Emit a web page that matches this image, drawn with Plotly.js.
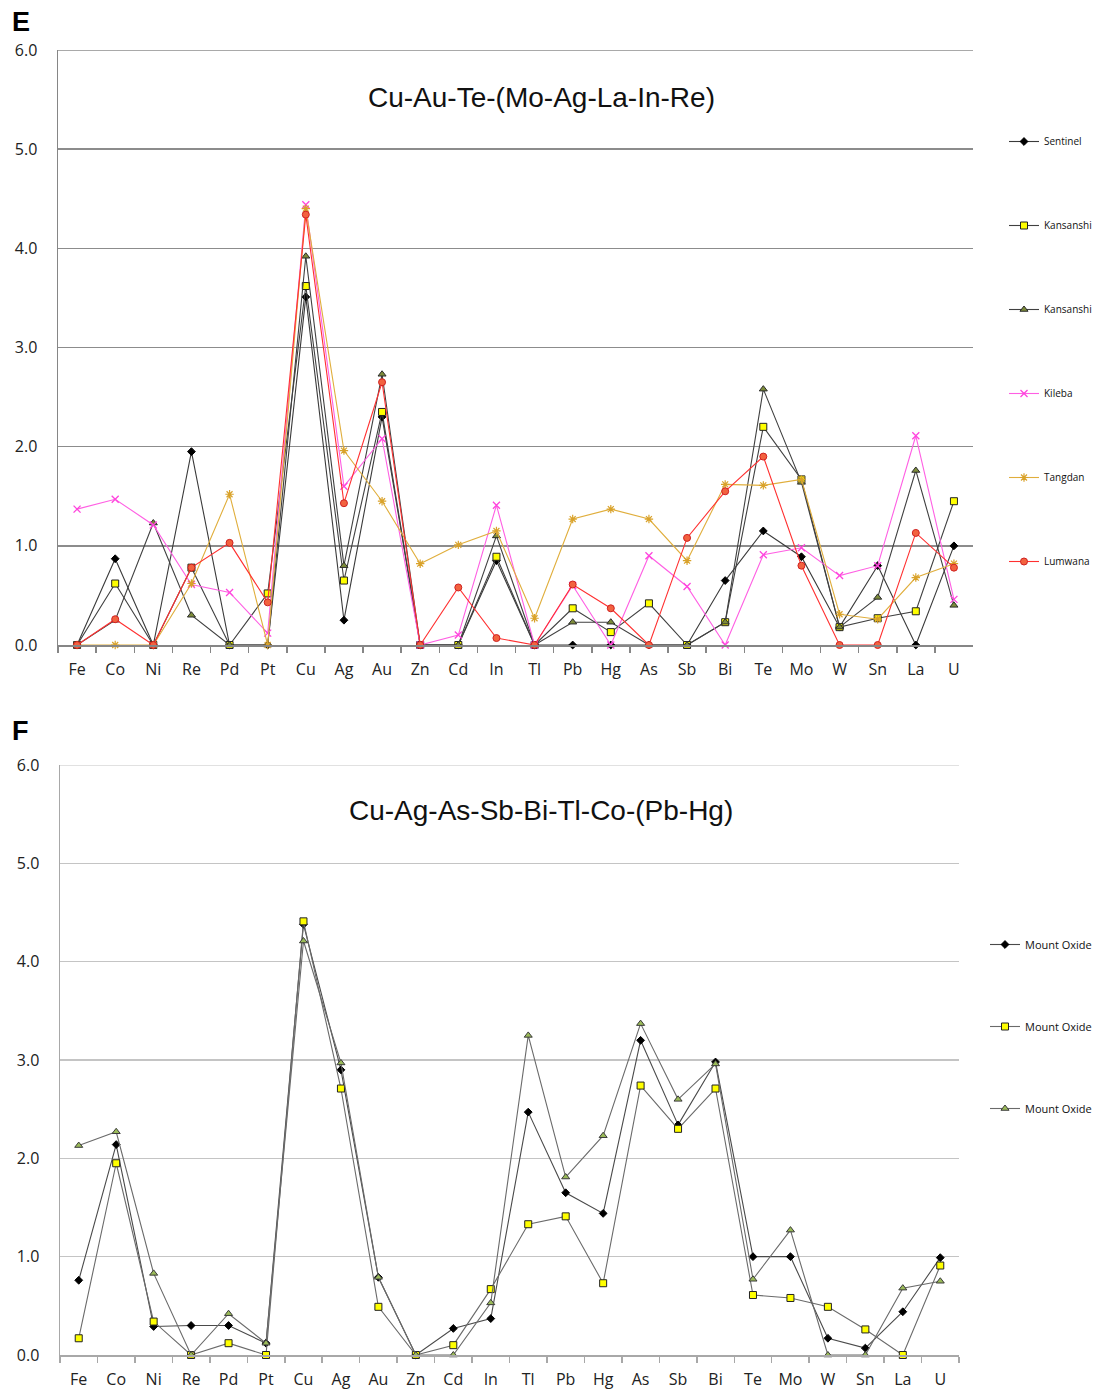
<!DOCTYPE html>
<html>
<head>
<meta charset="utf-8">
<script src="https://cdn.plot.ly/plotly-3.0.1.min.js"></script>
<style>
  html, body { margin: 0; padding: 0; background: #fff; }
  #chart { width: 1102px; height: 1392px; }
</style>
</head>
<body>
<div id="chart"></div>
<script>
// Element order along the x axis (shared by both panels)
const elements = ["Fe","Co","Ni","Re","Pd","Pt","Cu","Ag","Au","Zn","Cd","In","Tl","Pb","Hg","As","Sb","Bi","Te","Mo","W","Sn","La","U"];

// Panel E: Cu-Au-Te-(Mo-Ag-La-In-Re)
const sentinel   = [0, 0.87, 0, 1.95, 0, 0, 3.51, 0.25, 2.30, 0, 0, 0.85, 0, 0, 0, 0, 0, 0.65, 1.15, 0.89, 0.18, 0.80, 0, 1.00];
const kansanshiA = [0, 0.62, 0, 0.78, 0, 0.52, 3.62, 0.65, 2.35, 0, 0, 0.89, 0, 0.37, 0.13, 0.42, 0, 0.23, 2.20, 1.67, 0.18, 0.27, 0.34, 1.45];
const kansanshiB = [0, 0.25, 1.23, 0.30, 0, 0, 3.92, 0.80, 2.73, 0, 0, 1.10, 0, 0.23, 0.23, 0, 0, 0.23, 2.58, 1.64, 0.18, 0.48, 1.76, 0.40];
const kileba     = [1.37, 1.47, 1.21, 0.61, 0.53, 0.12, 4.44, 1.60, 2.08, 0, 0.10, 1.41, 0, 0.60, 0, 0.90, 0.59, 0, 0.91, 0.98, 0.70, 0.80, 2.11, 0.46];
const tangdan    = [0, 0, 0, 0.62, 1.52, 0, 4.40, 1.96, 1.45, 0.82, 1.01, 1.15, 0.27, 1.27, 1.37, 1.27, 0.85, 1.62, 1.61, 1.67, 0.31, 0.26, 0.68, 0.82];
const lumwana    = [0, 0.26, 0, 0.78, 1.03, 0.43, 4.34, 1.43, 2.65, 0, 0.58, 0.07, 0, 0.61, 0.37, 0, 1.08, 1.55, 1.90, 0.80, 0, 0, 1.13, 0.78];

// Panel F: Cu-Ag-As-Sb-Bi-Tl-Co-(Pb-Hg)
const mountOxideA = [0.76, 2.14, 0.29, 0.30, 0.30, 0.12, 4.38, 2.90, 0.79, 0, 0.27, 0.37, 2.47, 1.65, 1.44, 3.20, 2.34, 2.98, 1.00, 1.00, 0.17, 0.07, 0.44, 0.99];
const mountOxideB = [0.17, 1.95, 0.34, 0, 0.12, 0, 4.41, 2.71, 0.49, 0, 0.10, 0.67, 1.33, 1.41, 0.73, 2.74, 2.30, 2.71, 0.61, 0.58, 0.49, 0.26, 0, 0.91];
const mountOxideC = [2.13, 2.27, 0.83, 0, 0.42, 0.12, 4.21, 2.97, 0.79, 0, 0, 0.53, 3.25, 1.81, 2.23, 3.37, 2.60, 2.96, 0.77, 1.27, 0, 0, 0.68, 0.75];

const titleE = "Cu-Au-Te-(Mo-Ag-La-In-Re)";
const titleF = "Cu-Ag-As-Sb-Bi-Tl-Co-(Pb-Hg)";

const W = 1102, H = 1392;
const px = v => v / W;
const py = v => 1 - v / H;

function series(name, y, lineColor, marker, axes, legend, group) {
  return {
    type: "scatter", mode: "lines+markers", name: name,
    x: elements, y: y,
    xaxis: axes[0], yaxis: axes[1],
    legend: legend, legendgroup: group,
    line: { color: lineColor, width: 1.1 },
    marker: marker,
    cliponaxis: false
  };
}

const axesE = ["x", "y"], axesF = ["x2", "y2"];
const diamond = { symbol: "diamond", size: 6, color: "#000", line: { color: "#000", width: 1 } };
const square  = { symbol: "square", size: 7, color: "#ffff00", line: { color: "#222", width: 1 } };
const triE    = { symbol: "triangle-up", size: 7, color: "#7d8c3a", line: { color: "#2b2b2b", width: 1 } };
const triF    = { symbol: "triangle-up", size: 7, color: "#9bbb59", line: { color: "#3a3a3a", width: 1 } };

const traces = [
  series("Sentinel", sentinel, "#3a3a3a", diamond, axesE, "legend", "e1"),
  series("Kansanshi", kansanshiA, "#404040", square, axesE, "legend", "e2"),
  series("Kansanshi", kansanshiB, "#404040", triE, axesE, "legend", "e3"),
  series("Kileba", kileba, "#ff5fe3", { symbol: "x-thin-open", size: 7, color: "#ff44dd", line: { color: "#ff44dd", width: 1.3 } }, axesE, "legend", "e4"),
  series("Tangdan", tangdan, "#e0ae3c", { symbol: "asterisk-open", size: 7, color: "#d9a22a", line: { color: "#d9a22a", width: 1.2 } }, axesE, "legend", "e5"),
  series("Lumwana", lumwana, "#ff3030", { symbol: "circle", size: 7, color: "#f2623f", line: { color: "#d02020", width: 1 } }, axesE, "legend", "e6"),
  series("Mount Oxide", mountOxideA, "#4a4a4a", diamond, axesF, "legend2", "f1"),
  series("Mount Oxide", mountOxideB, "#6a6a6a", square, axesF, "legend2", "f2"),
  series("Mount Oxide", mountOxideC, "#6a6a6a", triF, axesF, "legend2", "f3")
];

const tickFont = { family: "Open Sans, DejaVu Sans, sans-serif", size: 16, color: "#222" };

function xAxis(domain, anchor, lineColor) {
  return {
    domain: domain, anchor: anchor, type: "category",
    range: [-0.5, elements.length - 0.5],
    showline: true, linecolor: lineColor, linewidth: 1.5,
    ticks: "outside", tickson: "boundaries", ticklen: 6, tickcolor: lineColor, tickwidth: 1.5,
    ticklabelstandoff: 9,
    showgrid: false, zeroline: false, fixedrange: true,
    tickfont: tickFont
  };
}
function yAxis(domain, anchor, lineColor, gridColor, gridWidth) {
  return {
    domain: domain, anchor: anchor, range: [0, 6], dtick: 1, tickformat: ".1f",
    showline: true, linecolor: lineColor, linewidth: 1.5,
    showgrid: true, gridcolor: gridColor, gridwidth: gridWidth,
    zeroline: false, ticks: "", ticklabelstandoff: 16, fixedrange: true,
    tickfont: tickFont
  };
}

// Top gridline at 6.0 for each panel (range edge, not drawn by the grid itself)
function topLine(xref, yref, color, width) {
  return { type: "line", xref: xref + " domain", yref: yref, x0: 0, x1: 1, y0: 6, y1: 6,
           line: { color: color, width: width }, layer: "below" };
}

const legendFont = { family: "Open Sans, DejaVu Sans, sans-serif", size: 10, color: "#111" };

const layout = {
  width: W, height: H,
  margin: { l: 0, r: 0, t: 0, b: 0 },
  paper_bgcolor: "#fff", plot_bgcolor: "#fff",
  xaxis: xAxis([px(58), px(973)], "y", "#868686"),
  yaxis: yAxis([py(645), py(50)], "x", "#868686", "#8c8c8c", 1.6),
  xaxis2: xAxis([px(60), px(959)], "y2", "#a8a8a8"),
  yaxis2: yAxis([py(1355), py(765)], "x2", "#a8a8a8", "#c4c4c4", 1.2),
  shapes: [
    topLine("x", "y", "#8c8c8c", 1.6),
    topLine("x2", "y2", "#c4c4c4", 1.2)
  ],
  legend: {
    x: px(1004), y: py(127), xanchor: "left", yanchor: "top",
    bgcolor: "rgba(0,0,0,0)", font: legendFont,
    tracegroupgap: 65, itemwidth: 30, traceorder: "grouped"
  },
  legend2: {
    x: px(985), y: py(930), xanchor: "left", yanchor: "top",
    bgcolor: "rgba(0,0,0,0)", font: { family: "Open Sans, DejaVu Sans, sans-serif", size: 11, color: "#111" },
    tracegroupgap: 63, itemwidth: 30, traceorder: "grouped"
  },
  showlegend: true,
  annotations: [
    { text: "<b>E</b>", xref: "paper", yref: "paper", x: px(21), y: py(22), xanchor: "center", yanchor: "middle", showarrow: false,
      font: { family: "Liberation Sans, Arial, sans-serif", size: 27, color: "#000" } },
    { text: "<b>F</b>", xref: "paper", yref: "paper", x: px(20), y: py(731), xanchor: "center", yanchor: "middle", showarrow: false,
      font: { family: "Liberation Sans, Arial, sans-serif", size: 27, color: "#000" } },
    { text: titleE, xref: "paper", yref: "paper", x: px(541), y: py(97), xanchor: "center", yanchor: "middle", showarrow: false,
      font: { family: "Liberation Sans, Arial, sans-serif", size: 28, color: "#111" } },
    { text: titleF, xref: "paper", yref: "paper", x: px(541), y: py(810), xanchor: "center", yanchor: "middle", showarrow: false,
      font: { family: "Liberation Sans, Arial, sans-serif", size: 28, color: "#111" } }
  ]
};

Plotly.newPlot("chart", traces, layout, { displayModeBar: false, staticPlot: true });
</script>
</body>
</html>
